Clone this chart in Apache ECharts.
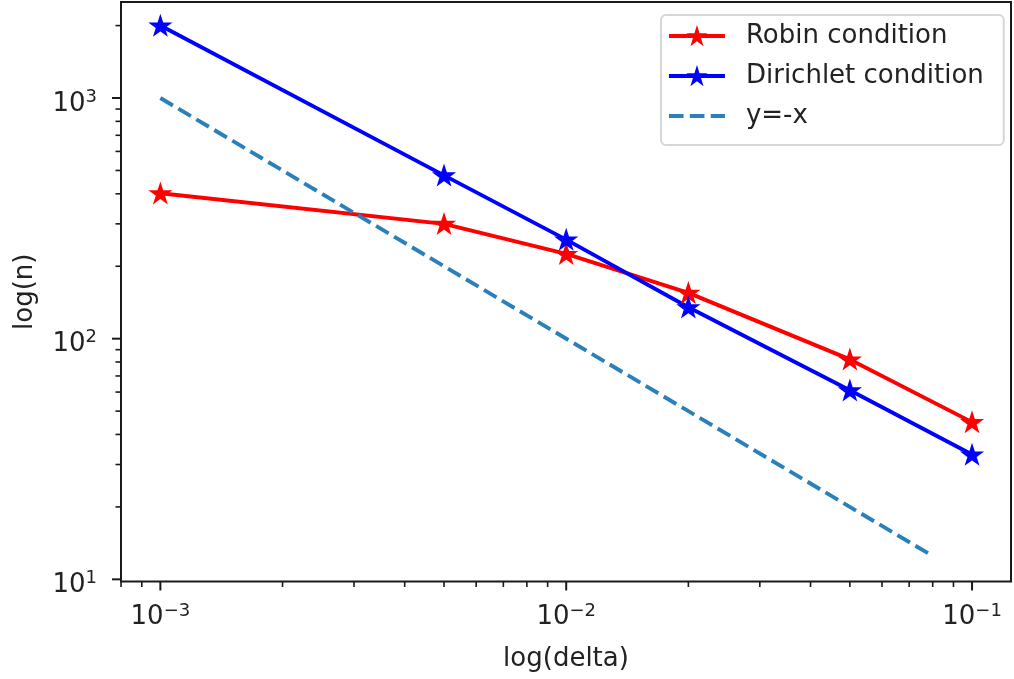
<!DOCTYPE html>
<html><head><meta charset="utf-8">
<script src="https://cdn.jsdelivr.net/npm/echarts@6/dist/echarts.min.js"></script>
<style>html,body{margin:0;padding:0;background:#fff}#c{width:1014px;height:679px}</style>
</head><body><div id="c"></div>
<script>
// ---- data ----
const deltas = [0.001, 0.005, 0.01, 0.02, 0.05, 0.1];
const robinN = [402, 300, 225, 155, 82, 45];
const dirichletN = [2000, 477, 258, 135, 61, 33];
const refDelta = [0.001, 0.08];
const refN = [1000, 12.5];
const seriesNames = ['Robin condition', 'Dirichlet condition', 'y=-x'];
// tick positions
const xMajorTicks = [0.001, 0.01, 0.1];
const xMinorTicks = [0.0008, 0.0009, 0.002, 0.003, 0.004, 0.005, 0.006, 0.007, 0.008, 0.009,
                     0.02, 0.03, 0.04, 0.05, 0.06, 0.07, 0.08, 0.09];
const yMajorTicks = [10, 100, 1000];
const yMinorTicks = [20, 30, 40, 50, 60, 70, 80, 90, 200, 300, 400, 500, 600, 700, 800, 900, 2000];
const X_MIN = Math.pow(10, -3.097), X_MAX = Math.pow(10, -0.904);
const Y_MIN = Math.pow(10, 0.991), Y_MAX = Math.pow(10, 3.399);

function starPath() {
  const pts = [];
  for (let i = 0; i < 10; i++) {
    const r = i % 2 === 0 ? 1 : 0.381966;
    const a = -Math.PI / 2 + i * Math.PI / 5;
    pts.push((r * Math.cos(a) * 50 + 50).toFixed(2) + ',' + (r * Math.sin(a) * 50 + 50).toFixed(2));
  }
  return 'path://M' + pts.join('L') + 'Z';
}
const STAR = starPath();
const DASH_ICON = 'path://M0,0L0,0M0,19L0,19M0,7.6h14.6v3.9h-14.6zM20.9,7.6h14.6v3.9h-14.6zM41.8,7.6h14.2v3.9h-14.2z';

function expOf(v) {
  const l = Math.log10(v), r = Math.round(l);
  return Math.abs(l - r) < 1e-6 ? r : null;
}
function fmt(prefix) {
  return function (v) {
    const e = expOf(v);
    if (e === null) return '';
    return '{' + prefix + 'b|10}{' + prefix + 's|' + (e < 0 ? '\u2212' + (-e) : String(e)) + '}';
  };
}
const TXT = '#222';
const DASH_COLOR = '#2a80bb';
const chart = echarts.init(document.getElementById('c'));

const xTickData = xMajorTicks.map(v => [v, Y_MIN, 1]).concat(xMinorTicks.map(v => [v, Y_MIN, 0]));
const yTickData = yMajorTicks.map(v => [X_MIN, v, 1]).concat(yMinorTicks.map(v => [X_MIN, v, 0]));

chart.setOption({
  animation: false,
  backgroundColor: '#fff',
  grid: { left: 121, right: 1, top: 2, bottom: 97.5, show: true, borderColor: '#1a1a1a', borderWidth: 2, backgroundColor: 'transparent' },
  legend: {
    data: [seriesNames[0], seriesNames[1], { name: seriesNames[2], icon: DASH_ICON }],
    orient: 'vertical', left: 661, top: 15,
    padding: [8, 20, 16, 6],
    itemWidth: 56, itemHeight: 19, itemGap: 14,
    lineStyle: { width: 3.9 },
    backgroundColor: 'rgba(255,255,255,0.8)', borderColor: '#d6d6d6', borderWidth: 2, borderRadius: 5,
    textStyle: { fontSize: 26, color: TXT, fontFamily: 'DejaVu Sans', lineHeight: 26, padding: [0, 0, 0, 16] },
    selectedMode: false
  },
  xAxis: {
    type: 'log', logBase: 10, min: X_MIN, max: X_MAX,
    name: 'log(delta)', nameLocation: 'middle', nameGap: 65,
    nameTextStyle: { fontSize: 26, color: TXT, fontFamily: 'DejaVu Sans', lineHeight: 26 },
    axisLine: { show: false }, axisTick: { show: false }, splitLine: { show: false }, minorTick: { show: false },
    axisLabel: {
      formatter: fmt('x'), margin: 22, color: TXT,
      rich: {
        xb: { fontSize: 26, lineHeight: 28, fontFamily: 'DejaVu Sans', color: TXT },
        xs: { fontSize: 18, lineHeight: 20, fontFamily: 'DejaVu Sans', color: TXT, padding: [0, 0, 13, 0] }
      }
    }
  },
  yAxis: {
    type: 'log', logBase: 10, min: Y_MIN, max: Y_MAX,
    name: 'log(n)', nameLocation: 'middle', nameGap: 83, nameRotate: 90,
    nameTextStyle: { fontSize: 26, color: TXT, fontFamily: 'DejaVu Sans', lineHeight: 26 },
    axisLine: { show: false }, axisTick: { show: false }, splitLine: { show: false }, minorTick: { show: false },
    axisLabel: {
      formatter: fmt('y'), margin: 24, color: TXT,
      rich: {
        yb: { fontSize: 26, lineHeight: 28, fontFamily: 'DejaVu Sans', color: TXT, padding: [12, 0, 0, 0] },
        ys: { fontSize: 18, lineHeight: 20, fontFamily: 'DejaVu Sans', color: TXT, padding: [0, 0, 2, 0] }
      }
    }
  },
  series: [
    {
      name: seriesNames[0], type: 'line', data: deltas.map((d, i) => [d, robinN[i]]),
      symbol: STAR, symbolSize: 18, symbolKeepAspect: true,
      lineStyle: { color: '#ff0000', width: 3.9 },
      itemStyle: { color: '#ff0000', borderColor: '#ff0000', borderWidth: 2 }
    },
    {
      name: seriesNames[1], type: 'line', data: deltas.map((d, i) => [d, dirichletN[i]]),
      symbol: STAR, symbolSize: 18, symbolKeepAspect: true,
      lineStyle: { color: '#0000ff', width: 3.9 },
      itemStyle: { color: '#0000ff', borderColor: '#0000ff', borderWidth: 2 }
    },
    {
      name: seriesNames[2], type: 'line', data: refDelta.map((d, i) => [d, refN[i]]),
      showSymbol: false, symbol: 'circle',
      lineStyle: { color: DASH_COLOR, width: 3.9, type: [14.6, 6.3] }, itemStyle: { color: DASH_COLOR }
    },
    {
      name: 'xticks', type: 'custom', silent: true, clip: false, z: 5, data: xTickData,
      renderItem: function (params, api) {
        const p = api.coord([api.value(0), api.value(1)]);
        const cs = params.coordSys; const yb = cs.y + cs.height;
        const major = api.value(2) === 1;
        return { type: 'line', shape: { x1: p[0], y1: yb, x2: p[0], y2: yb + (major ? 9 : 5.5) },
                 style: { stroke: '#1a1a1a', lineWidth: major ? 2 : 1.6 } };
      }
    },
    {
      name: 'yticks', type: 'custom', silent: true, clip: false, z: 5, data: yTickData,
      renderItem: function (params, api) {
        const p = api.coord([api.value(0), api.value(1)]);
        const cs = params.coordSys; const xl = cs.x;
        const major = api.value(2) === 1;
        return { type: 'line', shape: { x1: xl, y1: p[1], x2: xl - (major ? 9 : 5.5), y2: p[1] },
                 style: { stroke: '#1a1a1a', lineWidth: major ? 2 : 1.6 } };
      }
    }
  ]
});
</script></body></html>
